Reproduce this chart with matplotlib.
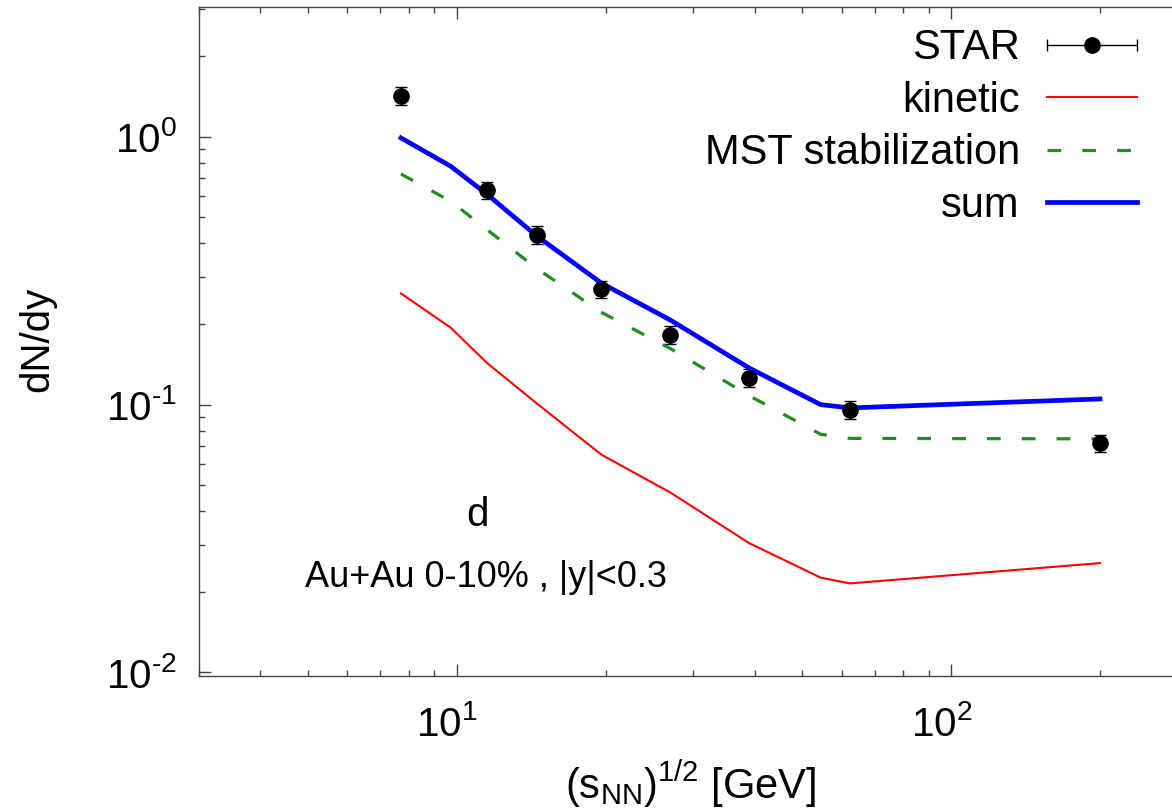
import numpy as np
import matplotlib
matplotlib.use("Agg")
import matplotlib.pyplot as plt
import matplotlib.transforms as mtransforms
from matplotlib.ticker import FixedLocator, LogLocator, NullFormatter
from matplotlib.legend_handler import HandlerErrorbar

plt.rcParams['font.family'] = ['Liberation Sans', 'DejaVu Sans']
plt.rcParams['mathtext.fontset'] = 'custom'
plt.rcParams['mathtext.rm'] = 'Liberation Sans'
plt.rcParams['mathtext.it'] = 'Liberation Sans:italic'
plt.rcParams['mathtext.bf'] = 'Liberation Sans:bold'
plt.rcParams['mathtext.default'] = 'regular'

# STAR deuteron yields, Au+Au 0-10%
star_x = [7.7, 11.5, 14.5, 19.6, 27, 39, 62.4, 200]
star_y = [1.42, 0.632, 0.43, 0.27, 0.182, 0.126, 0.0955, 0.0718]
star_err = [0.11, 0.046, 0.033, 0.02, 0.014, 0.01, 0.0075, 0.0055]

# model curves
model_x = [7.7, 9.7, 11.5, 14.5, 19.6, 27, 39, 54.4, 62.4, 200]
kinetic = [0.26, 0.194, 0.143, 0.101, 0.065, 0.047, 0.0304, 0.0226, 0.0215, 0.0256]
mst = [0.726, 0.575, 0.45, 0.322, 0.221, 0.162, 0.108, 0.0775, 0.0748, 0.0745]
total = [0.99, 0.777, 0.61, 0.426, 0.284, 0.207, 0.137, 0.100, 0.0972, 0.105]

xticks = [10, 100]
xticklabels = ['$10^{1}$', '$10^{2}$']
yticks = [0.01, 0.1, 1]
yticklabels = ['$10^{\\text{-2}}$', '$10^{\\text{-1}}$', '$10^{0}$']

fig = plt.figure(figsize=(11.72, 8.09), dpi=100)
ax = fig.add_axes([0.1695, 0.1644, 0.8433, 0.8269])

ax.errorbar(star_x, star_y, yerr=star_err, fmt='o', color='black', ms=11,
            elinewidth=1, capsize=4.5, capthick=1)
star_proxy = ax.errorbar([np.nan], [np.nan], xerr=[1.0], fmt='o', color='black', ms=11,
                         elinewidth=1, capsize=4.5, capthick=1)
l_kin, = ax.plot(model_x, kinetic, color='#ff0000', lw=1.5)
l_mst, = ax.plot(model_x, mst, color='#228b22', lw=2.3, dashes=(4.3, 6.6))
l_sum, = ax.plot(model_x, total, color='#0000ff', lw=3.4)

ax.set_xscale('log')
ax.set_yscale('log')
ax.set_xlim(3, 300)
ax.set_ylim(0.0097, 3.05)

ax.xaxis.set_major_locator(FixedLocator(xticks))
ax.set_xticklabels(xticklabels)
ax.xaxis.set_minor_locator(LogLocator(subs=np.arange(2, 10)))
ax.xaxis.set_minor_formatter(NullFormatter())
ax.yaxis.set_major_locator(FixedLocator(yticks))
ax.set_yticklabels(yticklabels)
ax.yaxis.set_minor_locator(LogLocator(subs=np.arange(2, 10)))
ax.yaxis.set_minor_formatter(NullFormatter())

for s in ax.spines.values():
    s.set_color('#444444')
    s.set_linewidth(1.0)
ax.tick_params(which='both', direction='in', top=True, right=True, color='#444444', width=1.0)
ax.tick_params(which='major', length=8.6, labelsize=29)
ax.tick_params(which='minor', length=4.3)
ax.tick_params(axis='y', pad=15.5)
ax.tick_params(axis='x', pad=21)

# gnuplot puts the x labels a little left of the tick
shift = mtransforms.ScaledTranslation(-10 / 100, 0, fig.dpi_scale_trans)
for lab in ax.get_xticklabels():
    lab.set_transform(lab.get_transform() + shift)

ax.text(11.0, 0.0388, 'd', ha='center', va='center', fontsize=29)
ax.text(11.45, 0.0226, 'Au+Au 0-10% , |y|<0.3', ha='center', va='center', fontsize=26)

fig.text(0.0316, 0.58, 'dN/dy', rotation=90, ha='center', va='center', fontsize=29)
fig.text(0.589, 0.031, '(s$_{NN}$)$^{1/2}$ [GeV]', ha='center', va='center', fontsize=30)

ax.legend([star_proxy, l_kin, l_mst, l_sum], ['STAR', 'kinetic', 'MST stabilization', 'sum'],
          loc='upper right', bbox_to_anchor=(0.970, 0.965), bbox_transform=fig.transFigure,
          frameon=False, markerfirst=False, fontsize=30, handlelength=2.16,
          handletextpad=0.65, labelspacing=0.30, borderpad=0, borderaxespad=0, numpoints=1,
          handler_map={star_proxy: HandlerErrorbar(xerr_size=1.08)})

fig.savefig('out.png', dpi=100)
